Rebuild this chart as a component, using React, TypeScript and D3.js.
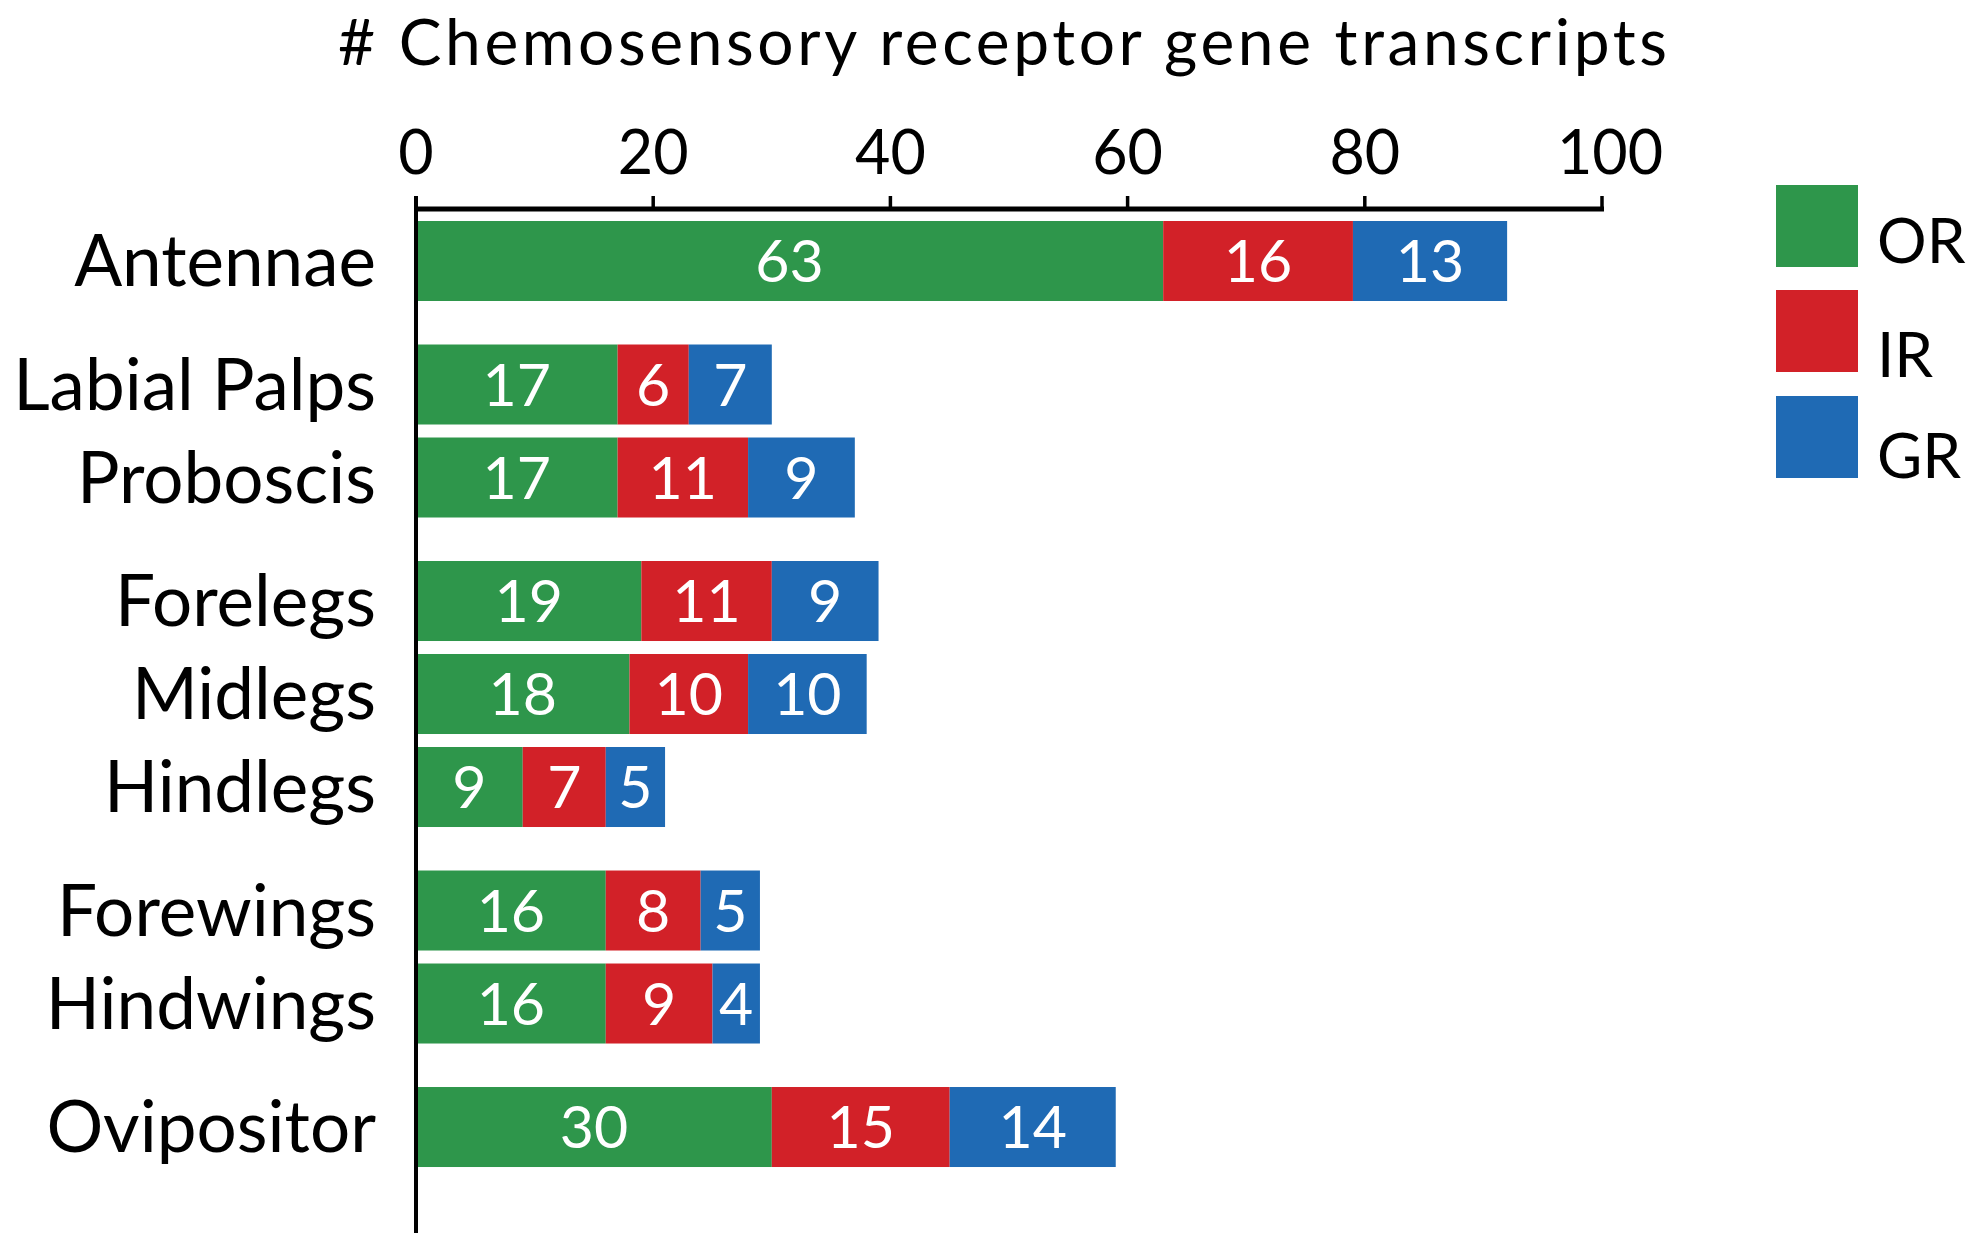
import React from "react";
import * as d3 from "d3";

const categories = ["Antennae", "Labial Palps", "Proboscis", "Forelegs", "Midlegs", "Hindlegs", "Forewings", "Hindwings", "Ovipositor"];
const groups = [0, 1, 1, 2, 2, 2, 3, 3, 4];
const orValues = [63, 17, 17, 19, 18, 9, 16, 16, 30];
const irValues = [16, 6, 11, 11, 10, 7, 8, 9, 15];
const grValues = [13, 7, 9, 9, 10, 5, 5, 4, 14];
const seriesNames = ["OR", "IR", "GR"];
const seriesColors = ["#2e964b", "#d22128", "#1f6ab4"];
const xTicks = [0, 20, 40, 60, 80, 100];
const title = "# Chemosensory receptor gene transcripts";

const W = 1983;
const H = 1252;
const FONT = "Lato, 'Open Sans', sans-serif";

export default function App() {
  const x = d3.scaleLinear().domain([0, 100]).range([416, 1602]);
  const groupGap = 0.328;
  const slot = (i: number) => i + groups[i] * groupGap;
  const y = d3.scaleLinear().domain([0, 1]).range([221, 314]);
  const barH = 80;

  const series = [orValues, irValues, grValues];
  const stackData = categories.map((c, i) => {
    const obj: Record<string, number | string> = { cat: c };
    seriesNames.forEach((s, k) => (obj[s] = series[k][i]));
    return obj;
  });
  const stacked = d3.stack<any>().keys(seriesNames)(stackData);

  return (
    <svg width={W} height={H} style={{ position: "absolute", left: 0, top: 0, background: "#fff" }} fontFamily={FONT}>
      <rect x={0} y={0} width={W} height={H} fill="#fff" />
      <text x={338} y={65} fontSize={64} textLength={1329} lengthAdjust="spacing" fill="#000">{title}</text>

      {xTicks.map((t) => (
        <g key={t}>
          <text x={x(t) + (t === 100 ? 8 : 0)} y={174} fontSize={61} textAnchor="middle" fill="#000">{t}</text>
          <line x1={x(t)} x2={x(t)} y1={196} y2={209} stroke="#000" strokeWidth={3.5} />
        </g>
      ))}
      <line x1={x(0) - 2} x2={x(100) + 2} y1={209} y2={209} stroke="#000" strokeWidth={5} />

      {stacked.map((layer, k) => (
        <g key={seriesNames[k]}>
          {layer.map((d, i) => {
            const top = y(slot(i));
            const x0 = x(d[0]);
            const x1 = x(d[1]);
            return (
              <g key={i}>
                <rect x={x0} y={top} width={x1 - x0} height={barH} fill={seriesColors[k]} />
                <text x={(x0 + x1) / 2} y={top + barH / 2 + 21} fontSize={59} textAnchor="middle" fill="#fff">
                  {series[k][i]}
                </text>
              </g>
            );
          })}
        </g>
      ))}

      <line x1={x(0)} x2={x(0)} y1={196} y2={1233} stroke="#000" strokeWidth={4} />

      {categories.map((c, i) => (
        <text key={c} x={376} y={y(slot(i)) + barH / 2 + 25} fontSize={71} textAnchor="end" fill="#000">
          {c}
        </text>
      ))}

      {seriesNames.map((s, k) => {
        const tops = [185, 290, 396];
        const baselines = [263, 377, 478];
        return (
          <g key={s}>
            <rect x={1776} y={tops[k]} width={82} height={82} fill={seriesColors[k]} />
            <text x={1877} y={baselines[k]} fontSize={62} fill="#000">{s}</text>
          </g>
        );
      })}
    </svg>
  );
}
